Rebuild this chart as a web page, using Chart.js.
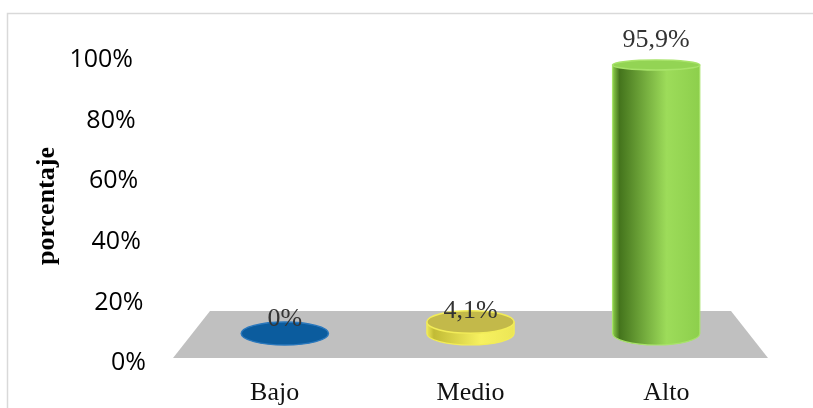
<!DOCTYPE html>
<html>
<head>
<meta charset="utf-8">
<script src="https://cdn.jsdelivr.net/npm/chart.js@4.4.0/dist/chart.umd.min.js"></script>
<style>
  html, body { margin: 0; padding: 0; background: #fff; }
  #wrap { width: 813px; height: 408px; }
</style>
</head>
<body>
<div id="wrap"><canvas id="chart" width="813" height="408"></canvas></div>
<script>
const categories = ['Bajo', 'Medio', 'Alto'];
const percentages = [0, 4.1, 95.9];
const valueLabels = ['0%', '4,1%', '95,9%'];
const yTickValues = [0, 20, 40, 60, 80, 100];
const yTickLabels = ['0%', '20%', '40%', '60%', '80%', '100%'];
const axisTitle = 'porcentaje';

// cylinder colours, one per bar
const barColors = [
    { dark: '#0a4f8a', light: '#1466aa', mid: '#0d5a9c', top: '#0b5c9e', rim: '#2a78bd' },
    { dark: '#c2bb36', light: '#f7f160', mid: '#ece656', top: '#c3b94a', rim: '#f2ec58' },
    { dark: '#44741c', light: '#9ddc5a', mid: '#8dcf4c', top: '#93d454', rim: '#a8e36a' }
];

const serif = '"Liberation Serif", "Times New Roman", serif';

// vertical radius of an ellipse gets smaller towards the top (perspective)
function ellipseRy(py) {
    const t = Math.max(0, Math.min(1, (py - 65) / (333.5 - 65)));
    return 5 + t * 6.5;
}

function drawCylinder(ctx, cx, rx, top, bottom, c) {
    const ryB = ellipseRy(bottom);
    const ryT = ellipseRy(top);
    if (bottom - top > 0.5) {
        const g = ctx.createLinearGradient(cx - rx, 0, cx + rx, 0);
        g.addColorStop(0, c.mid);
        g.addColorStop(0.08, c.dark);
        g.addColorStop(0.62, c.light);
        g.addColorStop(1, c.mid);
        ctx.beginPath();
        ctx.moveTo(cx - rx, top);
        ctx.lineTo(cx - rx, bottom);
        ctx.ellipse(cx, bottom, rx, ryB, 0, Math.PI, 0, true);
        ctx.lineTo(cx + rx, top);
        ctx.closePath();
        ctx.fillStyle = g;
        ctx.fill();
        ctx.strokeStyle = c.rim;
        ctx.lineWidth = 1.2;
        ctx.stroke();
    }
    ctx.beginPath();
    ctx.ellipse(cx, top, rx, ryT, 0, 0, Math.PI * 2);
    ctx.fillStyle = c.top;
    ctx.fill();
    ctx.strokeStyle = c.rim;
    ctx.lineWidth = 1.5;
    ctx.stroke();
}

const cylinderPlugin = {
    id: 'cylinders',
    beforeDatasetsDraw(chart) {
        const ctx = chart.ctx;
        const x = chart.scales.x;
        const y = chart.scales.y;
        const base = y.getPixelForValue(0);
        ctx.save();
        // outer frame
        ctx.strokeStyle = '#d9d9d9';
        ctx.lineWidth = 1.5;
        ctx.strokeRect(7.5, 13.5, 900, 500);
        // floor
        ctx.fillStyle = '#c0c0c0';
        ctx.beginPath();
        ctx.moveTo(x.left + 18, base - 22.5);
        ctx.lineTo(x.right - 18, base - 22.5);
        ctx.lineTo(x.right + 19, base + 24.5);
        ctx.lineTo(x.left - 19, base + 24.5);
        ctx.closePath();
        ctx.fill();
        ctx.restore();
    },
    afterDatasetsDraw(chart) {
        const ctx = chart.ctx;
        const x = chart.scales.x;
        const yt = chart.scales.yTicks;
        const meta = chart.getDatasetMeta(0);
        ctx.save();
        meta.data.forEach((bar, i) => {
            drawCylinder(ctx, bar.x, bar.width / 2, bar.y, bar.base, barColors[i]);
        });

        // value labels
        ctx.font = '26px ' + serif;
        ctx.fillStyle = '#333';
        ctx.textAlign = 'center';
        ctx.textBaseline = 'alphabetic';
        meta.data.forEach((bar, i) => {
            const h = bar.base - bar.y;
            ctx.fillText(valueLabels[i], bar.x, bar.y - 8 - h * 0.036 + (h > 0 && h < 30 ? 4 : 0));
        });

        // category labels (front edge, spread a bit wider)
        const mid = (x.left + x.right) / 2;
        ctx.font = '26px ' + serif;
        ctx.fillStyle = '#111';
        categories.forEach((c, i) => {
            const px = x.getPixelForValue(i);
            ctx.fillText(c, mid + (px - mid) * 1.055, 400);
        });

        // y tick labels
        ctx.font = '25px "Open Sans", sans-serif';
        ctx.textAlign = 'right';
        ctx.textBaseline = 'middle';
        ctx.fillStyle = '#000';
        yTickValues.forEach((v, i) => {
            ctx.fillText(yTickLabels[i], 146 - 0.13 * v, yt.getPixelForValue(v));
        });

        // axis title
        ctx.translate(47, 206);
        ctx.rotate(-Math.PI / 2);
        ctx.font = 'bold 26px ' + serif;
        ctx.textAlign = 'center';
        ctx.fillStyle = '#000';
        ctx.fillText(axisTitle, 0, 0);
        ctx.restore();
    }
};

new Chart(document.getElementById('chart'), {
    type: 'bar',
    data: {
        labels: categories,
        datasets: [{
            data: percentages,
            backgroundColor: 'rgba(0,0,0,0)',
            borderWidth: 0,
            barPercentage: 0.47,
            categoryPercentage: 1
        }]
    },
    options: {
        responsive: false,
        animation: false,
        layout: { padding: { left: 192, right: 64, top: 53, bottom: 45 } },
        plugins: {
            legend: { display: false },
            tooltip: { enabled: false }
        },
        scales: {
            x: { display: false },
            y: { display: false, min: -10.53, max: 100.18 },
            yTicks: { type: 'linear', position: 'left', display: false, min: 0, max: 102.3 }
        }
    },
    plugins: [cylinderPlugin]
});
</script>
</body>
</html>
